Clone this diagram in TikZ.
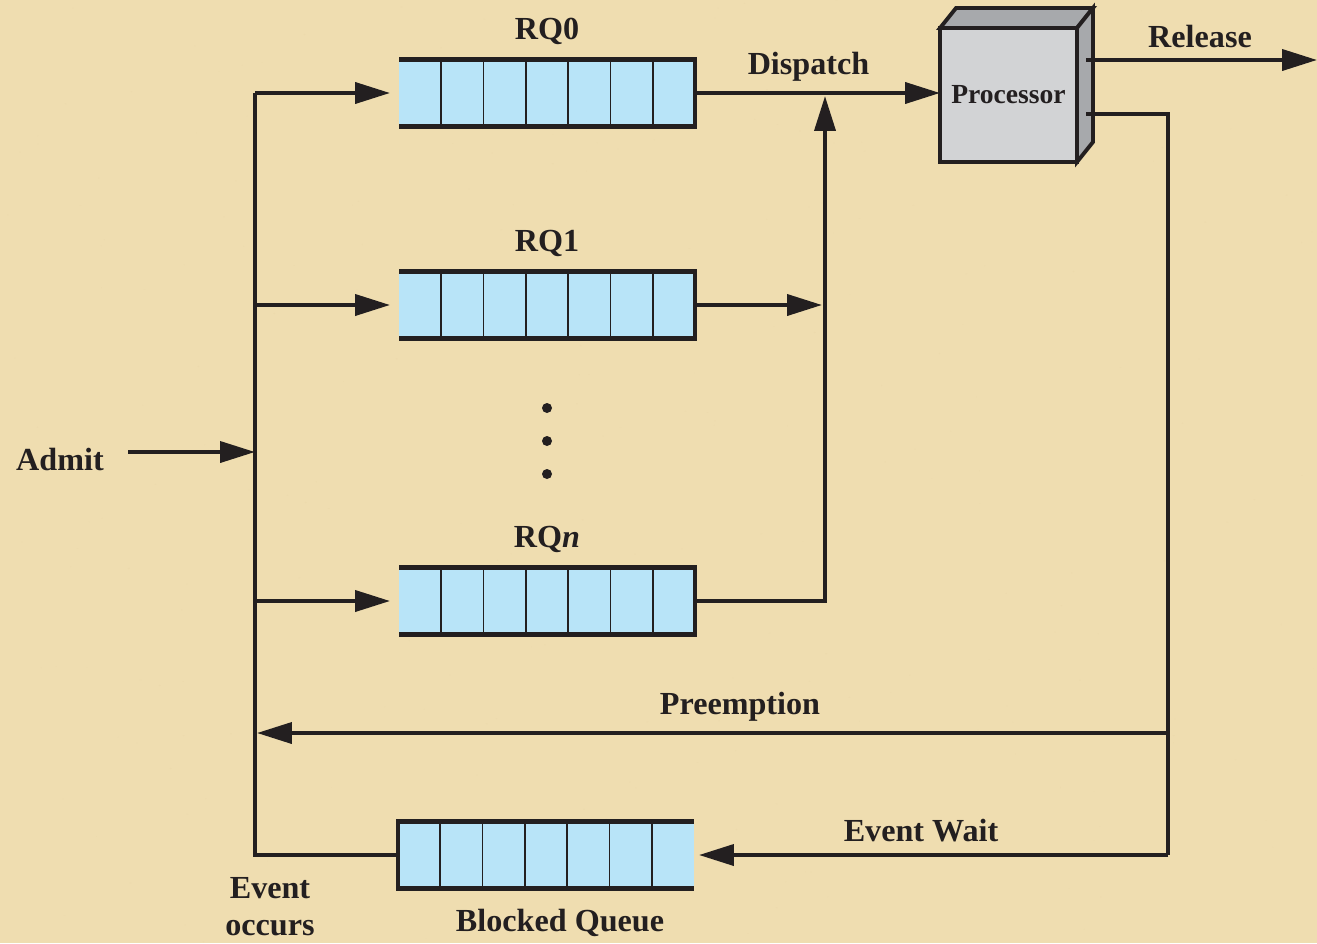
\documentclass[tikz,border=0pt]{standalone}
\usepackage{fontspec}
\setmainfont{Liberation Serif}
\usetikzlibrary{arrows.meta,positioning,calc}
\definecolor{parchment}{RGB}{239,221,176}
\definecolor{blotch}{RGB}{214,186,130}
\definecolor{cellblue}{RGB}{184,228,248}
\definecolor{cpufront}{RGB}{210,211,213}
\definecolor{cpuside}{RGB}{167,169,172}
\definecolor{ink}{RGB}{35,31,32}

\begin{document}
\begin{tikzpicture}[x=0.02cm, y=-0.02cm,
    queue/.style={rectangle, fill=cellblue, minimum width=5.92cm, minimum height=1.34cm, inner sep=0pt, outer sep=0pt},
    lbl/.style={font=\fontsize{18.3}{21}\selectfont\bfseries, text=ink, align=center, inner sep=0pt},
    flow/.style={draw=ink, line width=2.2pt},
    arrow/.style={flow, -{Triangle[length=0.7cm, width=0.42cm]}},
    rim/.style={draw=ink, line width=2.4pt, line join=miter}
]
    % Background
    \fill[parchment] (0,0) rectangle (1317,943);
    \pgfmathsetseed{7}
    \begin{scope}
        \clip (0,0) rectangle (1317,943);
        \foreach \i in {1,...,260} {
            \fill[blotch, opacity=0.07] (rnd*1317,rnd*943) ellipse ({0.3+0.9*rnd} and {0.2+0.6*rnd});
        }
    \end{scope}
    \useasboundingbox (0,0) rectangle (1317,943);

    % Queues
    \node[queue] (rq0) at (547,93) {};
    \node[queue] (rq1) at (547,305) {};
    \node[queue] (rqn) at (547,601) {};
    \node[queue] (blk) at (546,855) {};
    \foreach \q in {rq0,rq1,rqn,blk} {
        \foreach \i in {1,...,6} {
            \draw[ink, line width=1pt] ($(\q.north west)!\i/7!(\q.north east)$) -- ($(\q.south west)!\i/7!(\q.south east)$);
        }
    }
    \foreach \q in {rq0,rq1,rqn} {
        \draw[rim] (\q.north west) -- (\q.north east) -- (\q.south east) -- (\q.south west);
    }
    \draw[rim] (blk.north east) -- (blk.north west) -- (blk.south west) -- (blk.south east);

    % Queue labels
    \node[lbl] (rq0lbl) at (547,31) {RQ0};
    \node[lbl] (rq1lbl) at (547,243) {RQ1};
    \node[lbl] (rqnlbl) at (547,539) {RQ\textit{n}};
    \node[lbl] (blklbl) at (560,923) {Blocked Queue};
    \foreach \y in {408,441,474} {
        \fill[ink] (547,\y) circle (0.1cm);
    }

    % Processor
    \node[draw=ink, fill=cpufront, line width=2.2pt, minimum width=2.74cm, minimum height=2.68cm, inner sep=0pt, outer sep=0pt,
          font=\fontsize{15.7}{18}\selectfont\bfseries, text=ink] (cpu) at (1008.5,95) {Processor};
    \filldraw[fill=cpuside, rim, line width=2.2pt] (cpu.north west) -- ++(16,-20) -- ($(cpu.north east)+(16,-20)$) -- (cpu.north east) -- cycle;
    \filldraw[fill=cpuside, rim, line width=2.2pt] (cpu.north east) -- ++(16,-20) -- ($(cpu.south east)+(16,-20)$) -- (cpu.south east) -- cycle;

    % Connection points
    \coordinate (bustop) at (255,93);
    \coordinate (bus1) at (255,305);
    \coordinate (busn) at (255,601);
    \coordinate (busbot) at (255,855);
    \coordinate (merge) at (825,93);
    \coordinate (relout) at (1086,60);
    \coordinate (relend) at (1317,60);
    \coordinate (preout) at (1086,114);
    \coordinate (preturn) at (1168,733);
    \coordinate (ewturn) at (1168,855);
    \coordinate (admitin) at (128,452);

    % Bus and entries
    \draw[flow, line join=miter] (blk.west) -- (busbot) -- (bustop);
    \draw[arrow, shorten >=0.18cm] (bustop) -- (rq0.west);
    \draw[arrow, shorten >=0.18cm] (bus1) -- (rq1.west);
    \draw[arrow, shorten >=0.18cm] (busn) -- (rqn.west);

    % Admit
    \node[lbl] (admit) at (60,459) {Admit};
    \draw[arrow] (admitin) -- (admitin -| bustop);

    % Dispatch
    \draw[arrow] (rq0.east) -- (rq0.east -| cpu.west) node[lbl, midway, above=5.5pt, xshift=-0.18cm] (disp) {Dispatch};
    \draw[arrow, shorten >=0.06cm] (rq1.east) -- (rq1.east -| merge);
    \draw[arrow, shorten >=0.06cm, line join=miter] (rqn.east) -| (merge);

    % Release
    \draw[arrow] (relout) -- (relend);
    \node[lbl] (rel) at (1200,37) {Release};

    % Preemption and event wait
    \draw[flow, line join=miter] (preout) -- (preout -| ewturn) -- (ewturn);
    \draw[arrow, shorten >=0.04cm] (preturn) -- (preturn -| bustop);
    \node[lbl] (pre) at (740,707) {Preemption};
    \draw[arrow, shorten >=0.1cm] (ewturn) -- (blk.east);
    \node[lbl] (ew) at (921,831) {Event Wait};
    \node[lbl] (evocc) at (270,907) {Event\\occurs};
\end{tikzpicture}
\end{document}
